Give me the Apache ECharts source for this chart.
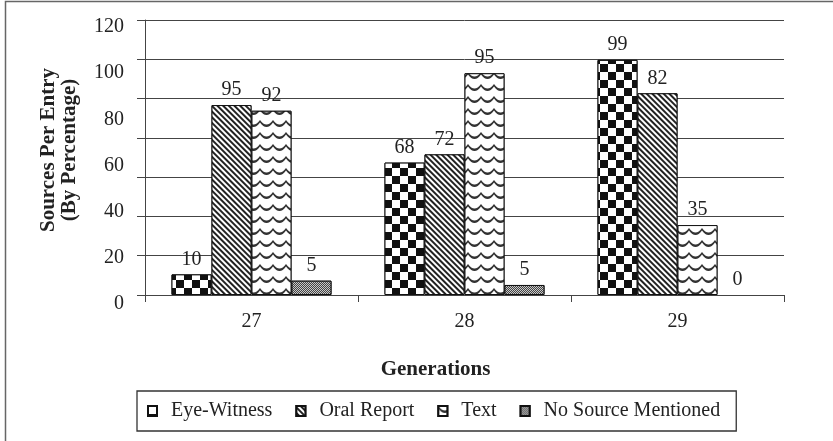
<!DOCTYPE html>
<html>
<head>
<meta charset="utf-8">
<script src="https://cdn.jsdelivr.net/npm/echarts@6/dist/echarts.min.js"></script>
<style>html,body{margin:0;padding:0;background:#fff}#chart{width:833px;height:441px}</style>
</head>
<body>
<div id="chart"></div>
<script>
// Categories (generations)
var categories = ['27', '28', '29'];
var seriesNames = ['Eye-Witness', 'Oral Report', 'Text', 'No Source Mentioned'];
// Printed data labels, as written above the bars
var eyeWitnessLabels = [10, 68, 99];
var oralReportLabels = [95, 72, 82];
var textLabels = [92, 95, 35];
var noSourceLabels = [5, 5, 0];
// Bar heights as drawn, read against the gridlines (gridline step 20, top of axis at 140)
var eyeWitnessBars = [10.5, 67.4, 119.7];
var oralReportBars = [96.7, 71.6, 102.7];
var textBars = [93.8, 112.9, 35.6];
var noSourceBars = [7.3, 5.1, 0];
// Printed y-axis tick labels
var yTickLabels = [0, 20, 40, 60, 80, 100, 120];

var FONT = '"Liberation Serif", "Times New Roman", serif';
var LINE = '#444';

var decals = [
  { symbol: 'rect', symbolSize: 1, symbolKeepAspect: false, rotation: 0, dashArrayX: [[8, 8], [0, 8, 8, 0]], dashArrayY: [8, 0], color: '#111', backgroundColor: '#fff' },
  { symbol: 'rect', symbolSize: 1, symbolKeepAspect: false, rotation: Math.PI / 4, dashArrayX: [1, 0], dashArrayY: [1.6, 2.0], color: '#222', backgroundColor: '#fff' },
  { symbol: 'path://M0,1 Q6.5,9 13,1 L13,3.2 Q6.5,11.2 0,3.2 Z', symbolSize: 1, symbolKeepAspect: false, rotation: 0, dashArrayX: [13, 0], dashArrayY: [6.2, 4.4], color: '#333', backgroundColor: '#fff' },
  { symbol: 'rect', symbolSize: 1, symbolKeepAspect: false, rotation: 0, dashArrayX: [[1, 1], [0, 1, 1, 0]], dashArrayY: [1, 0], color: '#444', backgroundColor: '#c8c8c8' }
];

var barsData = [eyeWitnessBars, oralReportBars, textBars, noSourceBars];
var labelData = [eyeWitnessLabels, oralReportLabels, textLabels, noSourceLabels];

var series = seriesNames.map(function (name, i) {
  return {
    name: name,
    type: 'bar',
    xAxisIndex: 0,
    yAxisIndex: 0,
    barWidth: 40,
    barGap: '0%',
    data: barsData[i].map(function (v) {
      return v === 0 ? { value: v, itemStyle: { borderWidth: 0 } } : v;
    }),
    itemStyle: { color: '#fff', borderColor: '#111', borderWidth: 1, decal: decals[i] },
    label: {
      show: true,
      position: 'top',
      distance: 5,
      fontFamily: FONT,
      fontSize: 20,
      color: '#222',
      formatter: function (p) { return String(labelData[i][p.dataIndex]); }
    },
    emphasis: { disabled: true },
    animation: false
  };
});

var chart = echarts.init(document.getElementById('chart'), null, { renderer: 'canvas' });
chart.setOption({
  animation: false,
  backgroundColor: '#fff',
  grid: [
    { left: 145, top: 20, width: 639, height: 275 },
    { left: 145, top: 27, width: 639, height: 277 }
  ],
  legend: {
    data: seriesNames,
    left: 137,
    top: 391,
    icon: 'rect',
    itemWidth: 9,
    itemHeight: 10,
    itemGap: 23,
    padding: [10, 16, 10, 10],
    borderColor: '#333',
    borderWidth: 1.3,
    selectedMode: false,
    textStyle: { fontFamily: FONT, fontSize: 20, color: '#222', padding: [0, 0, 0, 9] }
  },
  xAxis: [
    {
      type: 'category',
      gridIndex: 0,
      data: categories,
      boundaryGap: true,
      name: 'Generations',
      nameLocation: 'middle',
      nameGap: 64,
      nameTextStyle: { fontFamily: FONT, fontSize: 21, fontWeight: 'bold', color: '#222', padding: [0, 58, 0, 0] },
      axisLine: { lineStyle: { color: LINE, width: 1 } },
      axisTick: { show: true, length: 7, lineStyle: { color: LINE } },
      axisLabel: { fontFamily: FONT, fontSize: 20, color: '#222', margin: 17 }
    },
    { type: 'category', gridIndex: 1, data: categories, show: false }
  ],
  yAxis: [
    {
      type: 'value',
      gridIndex: 0,
      min: 0,
      max: 140,
      interval: 20,
      name: 'Sources Per Entry\n(By Percentage)',
      nameLocation: 'middle',
      nameRotate: 90,
      nameGap: 65,
      nameTextStyle: { fontFamily: FONT, fontSize: 21, fontWeight: 'bold', color: '#222', lineHeight: 21, padding: [0, 0, 0, 15] },
      axisLine: { show: true, lineStyle: { color: LINE, width: 1 } },
      axisTick: { show: true, length: 8, lineStyle: { color: LINE } },
      axisLabel: { show: false },
      splitLine: {
        show: true,
        lineStyle: { color: LINE, width: 1 }
      }
    },
    {
      type: 'value',
      gridIndex: 1,
      min: yTickLabels[0],
      max: yTickLabels[yTickLabels.length - 1],
      interval: 20,
      axisLine: { show: false },
      axisTick: { show: false },
      splitLine: { show: false },
      axisLabel: { fontFamily: FONT, fontSize: 20, color: '#222', margin: 21 }
    }
  ],
  graphic: [
    { type: 'rect', silent: true, z: 100, shape: { x: 5.5, y: 1.5, width: 900, height: 500 }, style: { fill: 'none', stroke: '#666', lineWidth: 1.5 } }
  ],
  series: series
});
</script>
</body>
</html>
